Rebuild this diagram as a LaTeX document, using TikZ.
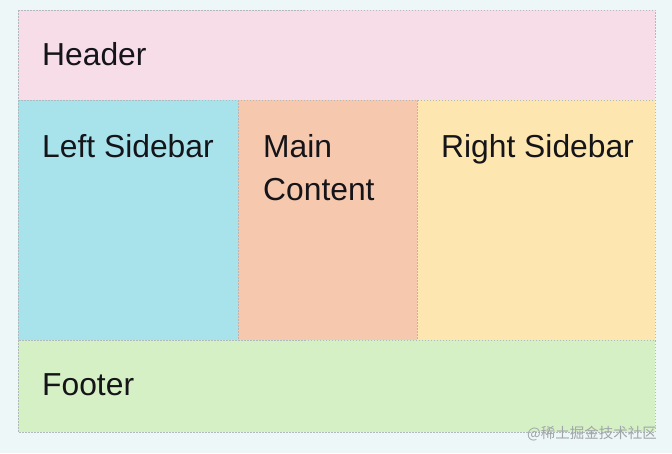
\documentclass[tikz,border=0pt]{standalone}
\usepackage{fontspec}
\setmainfont{Liberation Sans}
\newfontfamily\cjk{Noto Sans CJK SC}
\definecolor{bgc}{RGB}{238,247,247}
\definecolor{hdr}{RGB}{246,221,232}
\definecolor{lsb}{RGB}{168,227,236}
\definecolor{mnc}{RGB}{246,200,174}
\definecolor{rsb}{RGB}{253,230,176}
\definecolor{ftr}{RGB}{214,240,198}
\definecolor{bord}{RGB}{175,185,190}
\definecolor{txt}{RGB}{20,20,25}
\definecolor{wm}{RGB}{160,165,168}
\begin{document}
\begin{tikzpicture}[x=1pt,y=-1pt,
  region/.style={draw=bord,dashed,dash pattern=on 1.5pt off 1.5pt,line width=0.6pt},
  lbl/.style={font=\fontsize{31.8}{43}\selectfont,text=txt,anchor=base west,inner sep=0pt,align=left}]
\fill[bgc] (0,0) rectangle (672,453);
\useasboundingbox (0,0) rectangle (672,453);
\path[region,fill=hdr] (18,10) rectangle (655,100);
\path[region,fill=lsb] (18,100) rectangle (238,340);
\path[region,fill=mnc] (238,100) rectangle (417,340);
\path[region,fill=rsb] (417,100) rectangle (655,340);
\path[region,fill=ftr] (18,340) rectangle (655,432);
\node[lbl] (header) at (42,65) {Header};
\node[lbl] (left) at (42,157) {Left Sidebar};
\node[lbl] (main) at (263,157) {Main};
\node[lbl] (content) at (263,200) {Content};
\node[lbl] (right) at (441,157) {Right Sidebar};
\node[lbl] (footer) at (42,395) {Footer};
\node[font=\cjk\fontsize{14.5}{16}\selectfont,text=wm,anchor=base east,inner sep=0pt] (wmk) at (657,438) {@稀土掘金技术社区};
\end{tikzpicture}
\end{document}
